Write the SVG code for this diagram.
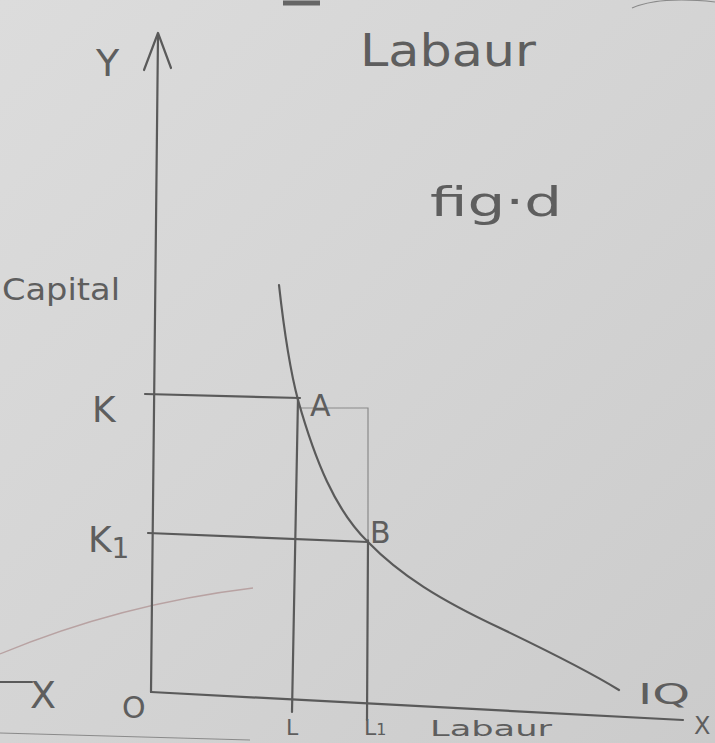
<svg xmlns="http://www.w3.org/2000/svg" width="715" height="743" viewBox="0 0 715 743">
<defs>
<linearGradient id="paper" x1="0" y1="0" x2="1" y2="1">
<stop offset="0" stop-color="#dcdcdc"/>
<stop offset="0.5" stop-color="#d4d4d4"/>
<stop offset="1" stop-color="#cbcbcb"/>
</linearGradient>
<style>
.p{fill:none;stroke:#5a5a5a;stroke-width:2.2;stroke-linecap:round;stroke-linejoin:round}
.f{fill:none;stroke:#8a8a8a;stroke-width:1.2}
.t{font-family:"DejaVu Sans","Liberation Sans",sans-serif;fill:#5e5e5e;font-weight:normal}
</style>
</defs>
<rect width="715" height="743" fill="url(#paper)"/>
<g id="bleed">
<path d="M283,3 H320" stroke="#666" stroke-width="5" fill="none"/>
<path d="M632,8 Q660,-4 715,2" class="f"/>
<path d="M0,654 Q120,604 253,588" fill="none" stroke="#b8a2a2" stroke-width="1.3"/>
<path d="M0,733 L250,740" class="f"/>
</g>
<g id="connectors">
<path id="y-axis" class="p" d="M158,35 L151,692"/>
<path id="y-arrow" class="p" d="M144,70 L158,33 L171,68"/>
<path id="x-axis" class="p" d="M151,692 L683,720"/>
<path id="x-left" class="p" d="M0,682 L32,682"/>
<path id="k-line" class="p" d="M145,394 L300,398"/>
<path id="k1-line" class="p" d="M148,533 L368,542"/>
<path id="l-line" class="p" d="M298,398 L292,712"/>
<path id="l1-line" class="p" d="M368,540 L367,720"/>
<path id="faint-rect" class="f" d="M300,408 L368,408 L368,540"/>
<path id="iq-curve" class="p" d="M279,285 C284,330 290,370 298,400 C315,460 335,510 368,542 C400,575 440,600 500,628 C550,652 590,672 619,690"/>
</g>
<g id="title"><text class="t" x="360" y="66" font-size="44" textLength="176" lengthAdjust="spacingAndGlyphs">Labaur</text></g>
<g id="fig"><text class="t" x="430" y="216" font-size="40" textLength="132" lengthAdjust="spacingAndGlyphs">fig·d</text></g>
<g id="y-label"><text class="t" x="96" y="76" font-size="38">Y</text></g>
<g id="capital"><text class="t" x="2" y="300" font-size="30" textLength="118" lengthAdjust="spacingAndGlyphs">Capital</text></g>
<g id="k-label"><text class="t" x="92" y="422" font-size="36">K</text></g>
<g id="k1-label"><text class="t" x="88" y="552" font-size="36">K<tspan font-size="28" dy="6">1</tspan></text></g>
<g id="a-label"><text class="t" x="310" y="416" font-size="30">A</text></g>
<g id="b-label"><text class="t" x="370" y="543" font-size="30">B</text></g>
<g id="o-label"><text class="t" x="122" y="718" font-size="30">O</text></g>
<g id="x-left-label"><text class="t" x="30" y="708" font-size="38">X</text></g>
<g id="iq-label"><text class="t" x="638" y="704" font-size="28" textLength="52" lengthAdjust="spacingAndGlyphs">IQ</text></g>
<g id="x-label"><text class="t" x="694" y="734" font-size="24">X</text></g>
<g id="l-label"><text class="t" x="286" y="735" font-size="22">L</text></g>
<g id="l1-label"><text class="t" x="364" y="735" font-size="22">L<tspan font-size="16">1</tspan></text></g>
<g id="labour-bottom"><text class="t" x="430" y="736" font-size="22" textLength="122" lengthAdjust="spacingAndGlyphs">Labaur</text></g>
</svg>
